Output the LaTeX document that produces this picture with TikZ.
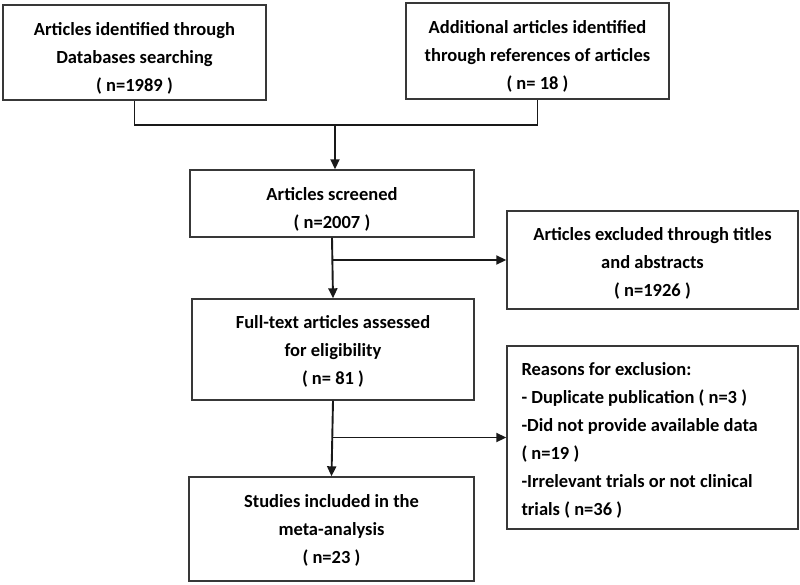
\documentclass[tikz,border=0pt]{standalone}
\usepackage{fontspec}
\setmainfont{Carlito}
\usetikzlibrary{arrows.meta}
\tikzset{
  frame/.style={draw=black!78, line width=1.4pt, inner sep=0pt},
  txt/.style={align=center, inner sep=0pt, font=\bfseries\fontsize{18.5}{28}\selectfont},
  conn/.style={draw=black!90, line width=1.9pt},
  arr/.style={conn, -{Triangle[length=10pt,width=9pt]}},
}
\begin{document}
\begin{tikzpicture}[x=1pt,y=-1pt]
\useasboundingbox (0,0) rectangle (800,585);
\node[frame, minimum width=263pt, minimum height=95pt] (b1) at (134.5,52.5) {};
\node[txt] (b1t) at ([yshift=-6pt]b1.center)
  {Articles identified through\\Databases searching\\( n=1989 )};
\node[frame, minimum width=263pt, minimum height=96pt] (b2) at (537.5,51) {};
\node[txt] (b2t) at ([yshift=-5pt]b2.center)
  {Additional articles identified\\through references of articles\\( n= 18 )};
\node[frame, minimum width=284pt, minimum height=67pt] (b3) at (332,203.5) {};
\node[txt] (b3t) at ([yshift=-5.5pt]b3.center)
  {Articles screened\\( n=2007 )};
\node[frame, minimum width=291pt, minimum height=98pt] (ex) at (652.5,260) {};
\node[txt] (ext) at ([yshift=-3pt]ex.center)
  {Articles excluded through titles\\and abstracts\\( n=1926 )};
\node[frame, minimum width=282pt, minimum height=101pt] (ft) at (333,349.5) {};
\node[txt] (ftt) at ([yshift=-1.5pt]ft.center)
  {Full-text articles assessed\\for eligibility\\( n= 81 )};
\node[frame, minimum width=291pt, minimum height=183pt] (re) at (652.5,437.5) {};
\node[txt, align=left, anchor=west] (ret) at ([xshift=15pt,yshift=-2.5pt]re.west)
  {Reasons for exclusion:\\- Duplicate publication ( n=3 )\\-Did not provide available data\\( n=19 )\\-Irrelevant trials or not clinical\\trials ( n=36 )};
\node[frame, minimum width=285pt, minimum height=104pt] (fi) at (331.5,529) {};
\node[txt] (fit) at ([yshift=-1pt]fi.center)
  {Studies included in the\\meta-analysis\\( n=23 )};
\coordinate (j) at (335,125);
\draw[conn] (b1.south) |- (j) -| (b2.south);
\draw[arr] (j) -- (j |- b3.north);
\draw[arr] (b3.south) -- (ft.north);
\coordinate (k1) at (b3.south |- ex.west);
\draw[arr] (k1) -- (ex.west);
\draw[arr] (ft.south) -- (fi.north);
\coordinate (k2) at (ft.south |- re.west);
\draw[arr] (k2) -- (re.west);
\end{tikzpicture}
\end{document}
